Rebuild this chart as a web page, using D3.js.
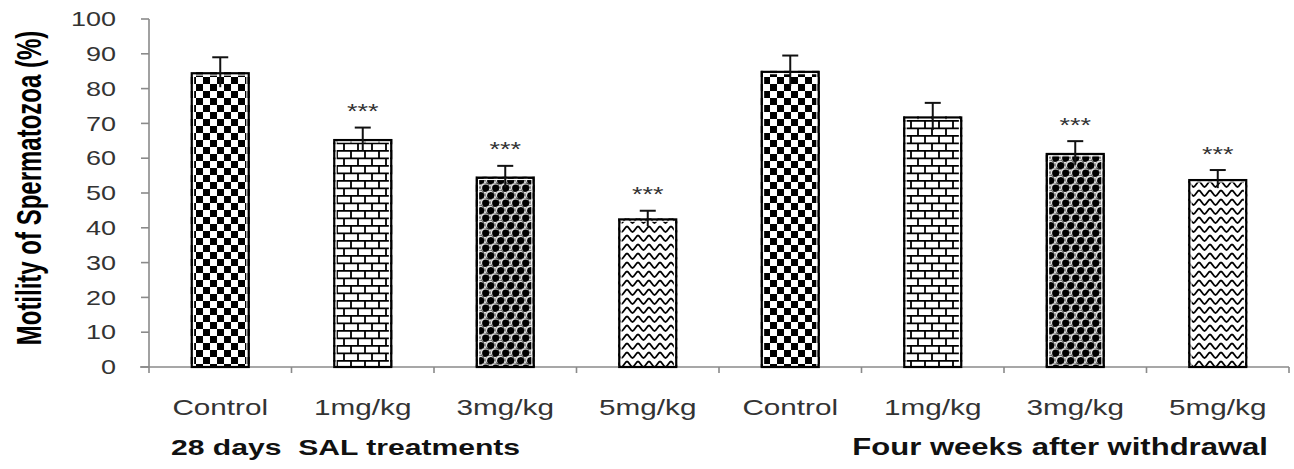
<!DOCTYPE html>
<html>
<head>
<meta charset="utf-8">
<script src="https://cdn.jsdelivr.net/npm/d3@7"></script>
<style>
  html, body { margin: 0; padding: 0; background: #fff; }
  svg { display: block; }
  text { font-family: "Liberation Sans", Arial, sans-serif; }
</style>
</head>
<body>
<svg id="chart" width="1294" height="469"></svg>
<script>
// ---- data ----
const categories = ["Control", "1mg/kg", "3mg/kg", "5mg/kg", "Control", "1mg/kg", "3mg/kg", "5mg/kg"];
const motility   = [84.7, 65.5, 54.7, 42.7, 85.1, 72.0, 61.5, 54.0];
const errors     = [4.3, 3.3, 3.1, 2.2, 4.4, 3.9, 3.4, 2.6];
const signif     = ["", "***", "***", "***", "", "", "***", "***"];
const patternIds = ["checker", "brick", "sphere", "zigzag", "checker", "brick", "sphere", "zigzag"];
const yTicks     = [0, 10, 20, 30, 40, 50, 60, 70, 80, 90, 100];
const groupLabels = ["28 days  SAL treatments", "Four weeks after withdrawal"];
const yTitle = "Motility of Spermatozoa (%)";

// ---- layout ----
const SX = 1.35; // horizontal text stretch of the reference
const svg = d3.select("#chart");
const axisColor = "#8a8a8a";

const x = d3.scaleBand()
  .domain(d3.range(categories.length))
  .range([149, 1289])
  .paddingInner(0.586)
  .paddingOuter(0.293);
const y = d3.scaleLinear().domain([0, 100]).range([367, 19]);

// ---- patterns ----
const defs = svg.append("defs");
let p = defs.append("pattern").attr("id", "checker").attr("patternUnits", "userSpaceOnUse")
  .attr("width", 14).attr("height", 14);
p.append("rect").attr("width", 14).attr("height", 14).attr("fill", "#fff");
p.append("rect").attr("x", 0).attr("y", 0).attr("width", 7).attr("height", 7).attr("fill", "#000");
p.append("rect").attr("x", 7).attr("y", 7).attr("width", 7).attr("height", 7).attr("fill", "#000");

p = defs.append("pattern").attr("id", "brick").attr("patternUnits", "userSpaceOnUse")
  .attr("width", 28).attr("height", 15);
p.append("rect").attr("width", 28).attr("height", 15).attr("fill", "#fff");
p.append("path").attr("d", "M0,0.9H28M0,8.4H28M1,0V7.5M15,0V7.5M8,7.5V15M22,7.5V15")
  .attr("stroke", "#000").attr("stroke-width", 1.8).attr("fill", "none");

p = defs.append("pattern").attr("id", "sphere").attr("patternUnits", "userSpaceOnUse")
  .attr("width", 10).attr("height", 15);
p.append("rect").attr("width", 10).attr("height", 15).attr("fill", "#fff");
[[0,0],[10,0],[5,7.5],[0,15],[10,15]].forEach(([cx, cy]) => {
  p.append("circle").attr("cx", cx).attr("cy", cy).attr("r", 4.7).attr("fill", "#333");
  p.append("circle").attr("cx", cx - 0.3).attr("cy", cy - 0.3).attr("r", 3.9).attr("fill", "#ddd");
  p.append("circle").attr("cx", cx + 0.6).attr("cy", cy + 0.6).attr("r", 3.5).attr("fill", "#000");
});

p = defs.append("pattern").attr("id", "zigzag").attr("patternUnits", "userSpaceOnUse")
  .attr("width", 11).attr("height", 9);
p.append("rect").attr("width", 11).attr("height", 9).attr("fill", "#fff");
p.append("path").attr("d", "M0,1.5 C1.8,1.5 3.7,7 5.5,7 C7.3,7 9.2,1.5 11,1.5")
  .attr("stroke", "#000").attr("stroke-width", 1.8).attr("fill", "none");

// ---- axes ----
const g = svg.append("g");
g.append("line").attr("x1", 149).attr("x2", 149).attr("y1", y(100)).attr("y2", y(0) + 6)
  .attr("stroke", axisColor).attr("stroke-width", 1.6);
g.selectAll(".ytick").data(yTicks).join("line")
  .attr("x1", 141).attr("x2", 149).attr("y1", d => y(d)).attr("y2", d => y(d))
  .attr("stroke", axisColor).attr("stroke-width", 1.6);
g.selectAll(".ylab").data(yTicks).join("text")
  .attr("transform", d => `translate(116,${y(d)}) scale(${SX},1)`)
  .attr("text-anchor", "end").attr("dy", "0.36em")
  .attr("font-size", 20).attr("fill", "#333")
  .text(d => d);

const x0 = x.range()[0], x1 = x.range()[1];
g.append("line").attr("x1", 140).attr("x2", x1).attr("y1", y(0)).attr("y2", y(0))
  .attr("stroke", axisColor).attr("stroke-width", 1.6);
const bounds = d3.range(categories.length + 1).map(i => x0 + i * x.step());
g.selectAll(".xtick").data(bounds.slice(1)).join("line")
  .attr("x1", d => d).attr("x2", d => d).attr("y1", y(0)).attr("y2", y(0) + 6)
  .attr("stroke", axisColor).attr("stroke-width", 1.6);

// ---- bars ----
const bars = svg.append("g");
categories.forEach((c, i) => {
  const bx = x(i), bw = x.bandwidth(), top = y(motility[i]), h = y(0) - top;
  bars.append("rect").attr("x", bx).attr("y", top).attr("width", bw).attr("height", h)
    .attr("fill", `url(#${patternIds[i]})`);
  bars.append("rect").attr("x", bx + 2.8).attr("y", top + 2.8).attr("width", bw - 5.6).attr("height", h - 2.8)
    .attr("fill", "none").attr("stroke", "#fff").attr("stroke-width", 1.2);
  bars.append("rect").attr("x", bx + 1).attr("y", top + 1).attr("width", bw - 2).attr("height", h - 1)
    .attr("fill", "none").attr("stroke", "#000").attr("stroke-width", 2.2);
});

// ---- error bars ----
const eb = svg.append("g").attr("stroke", "#111").attr("stroke-width", 2);
categories.forEach((c, i) => {
  const cx = x(i) + x.bandwidth() / 2;
  eb.append("line").attr("x1", cx).attr("x2", cx)
    .attr("y1", y(motility[i] + errors[i])).attr("y2", y(motility[i] - errors[i]));
  eb.append("line").attr("x1", cx - 8).attr("x2", cx + 8)
    .attr("y1", y(motility[i] + errors[i])).attr("y2", y(motility[i] + errors[i]));
});

// ---- significance stars ----
svg.append("g").selectAll("text").data(signif.map((s, i) => ({ s, i })).filter(d => d.s))
  .join("text")
  .attr("transform", d => `translate(${x(d.i) + x.bandwidth() / 2},${y(motility[d.i] + errors[d.i]) - 9.5}) scale(${SX},1)`)
  .attr("text-anchor", "middle").attr("font-size", 20).attr("fill", "#333")
  .text(d => d.s);

// ---- category labels ----
svg.append("g").selectAll("text").data(categories).join("text")
  .attr("transform", (d, i) => `translate(${x(i) + x.bandwidth() / 2},415) scale(${SX},1)`)
  .attr("text-anchor", "middle").attr("font-size", 22).attr("fill", "#333")
  .text(d => d);

// ---- group labels ----
svg.append("text")
  .attr("transform", `translate(171,455) scale(${SX},1)`)
  .attr("text-anchor", "start").attr("font-size", 22.3).attr("font-weight", "bold").attr("fill", "#111")
  .attr("xml:space", "preserve").style("white-space", "pre")
  .text(groupLabels[0]);
svg.append("text")
  .attr("transform", `translate(1268,455) scale(${SX},1)`)
  .attr("text-anchor", "end").attr("font-size", 23).attr("font-weight", "bold").attr("fill", "#111")
  .attr("xml:space", "preserve").style("white-space", "pre")
  .text(groupLabels[1]);

// ---- y title ----
svg.append("text")
  .attr("transform", `translate(41,188) scale(1.5,1) rotate(-90)`)
  .attr("text-anchor", "middle").attr("font-size", 24).attr("font-weight", "bold").attr("fill", "#000")
  .text(yTitle);
</script>
</body>
</html>
